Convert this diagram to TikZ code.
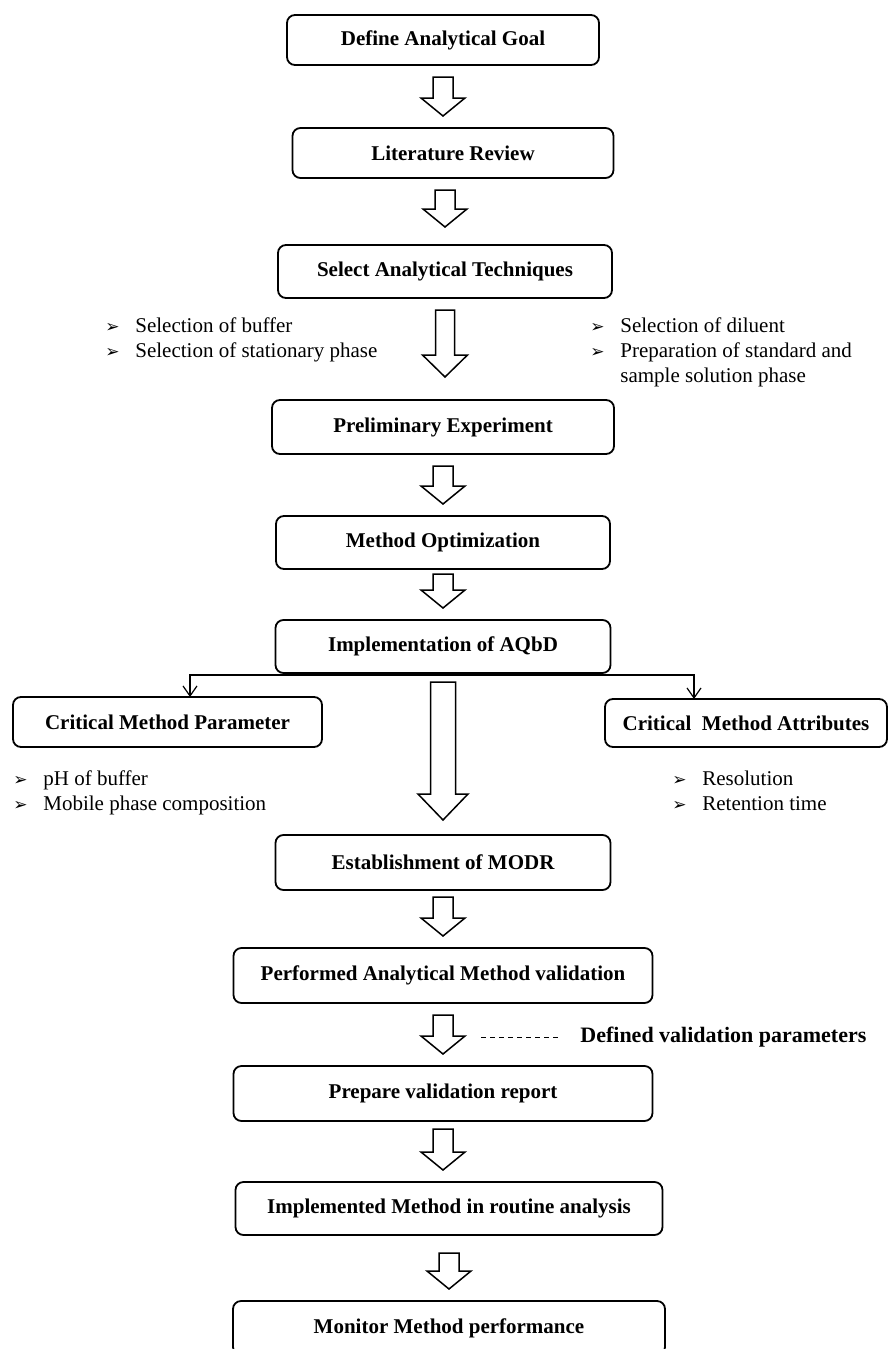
\documentclass[tikz,border=0pt]{standalone}
\usepackage{fontspec}
\setmainfont{Liberation Serif}
\newfontfamily\arrowfont{DejaVu Sans}
\usepackage{tikz}
\usetikzlibrary{positioning}
\usetikzlibrary{calc}
\usetikzlibrary{arrows.meta}
\newcommand{\itemarrow}{\makebox[15pt][l]{\arrowfont\fontsize{8.5}{8.5}\selectfont ➢}}
\tikzset{
	stage/.style={
		draw,
		rounded corners=4pt,
		line width=0.9pt,
		outer sep=0pt,
		inner sep=1pt,
		font=\fontsize{10.5}{12.5}\selectfont\bfseries},
	notes/.style={
		align=left,
		inner sep=0pt,
		anchor=north west,
		font=\fontsize{10.5}{12.5}\selectfont},
	hollow/.style n args={3}{
		line width=0.75pt,
		to path={let \p1=(\tikztostart), \p2=(\tikztotarget) in
			(\x1-#1,\y1-6pt) -- (\x1+#1,\y1-6pt) -- (\x1+#1,\y2+6pt+#3)
			-- (\x1+#2,\y2+6pt+#3) -- (\x1,\y2+6pt) -- (\x1-#2,\y2+6pt+#3)
			-- (\x1-#1,\y2+6pt+#3) -- cycle}},
	thinarrow/.style={hollow={5pt}{11pt}{9pt}},
	branch/.style={
		draw,
		line width=0.6pt,
		-{Straight Barb[length=5pt,width=7pt]}}
}
\begin{document}
\begin{tikzpicture}
	\useasboundingbox (0,0) rectangle (444.5pt,-674.5pt);
	\node[stage, minimum width=156pt, minimum height=25pt] (goal) at (221.5pt,-20pt) {Define Analytical Goal};
	\node[stage, minimum width=160.5pt, minimum height=25pt, below=31.5pt of goal, xshift=5pt] (review) {Literature Review};
	\node[stage, minimum width=167pt, minimum height=26.5pt, below=33.5pt of review, xshift=-4pt] (select) {Select Analytical Techniques};
	\node[stage, minimum width=171pt, minimum height=27pt, below=51pt of select, xshift=-1pt] (prelim) {Preliminary Experiment};
	\node[stage, minimum width=167pt, minimum height=26.5pt, below=31pt of prelim] (optim) {Method Optimization};
	\node[stage, minimum width=167.5pt, minimum height=26.5pt, below=25.5pt of optim] (aqbd) {Implementation of AQbD};
	\node[stage, minimum width=154.5pt, minimum height=25pt, below=12pt of aqbd, xshift=-137.75pt] (cmp) {Critical Method Parameter};
	\node[stage, minimum width=141pt, minimum height=24pt, below=13pt of aqbd, xshift=151.5pt] (cma) {Critical~~Method Attributes};
	\node[stage, minimum width=167.5pt, minimum height=27.5pt, below=81pt of aqbd] (modr) {Establishment of MODR};
	\node[stage, minimum width=209.5pt, minimum height=27.5pt, below=29pt of modr] (valid) {Performed Analytical Method validation};
	\node[stage, minimum width=209.5pt, minimum height=27.5pt, below=31.5pt of valid] (report) {Prepare validation report};
	\node[stage, minimum width=213.5pt, minimum height=26.5pt, below=30.5pt of report, xshift=3pt] (routine) {Implemented Method in routine analysis};
	\node[stage, minimum width=216pt, minimum height=27pt, below=33pt of routine] (monitor) {Monitor Method performance};
	\node[notes] (selectL) at (52.5pt,-158.8pt) {\itemarrow Selection of buffer\\ \itemarrow Selection of stationary phase};
	\node[notes] (selectR) at (295pt,-158.8pt) {\itemarrow Selection of diluent\\ \itemarrow Preparation of standard and\\ \makebox[15pt]{}sample solution phase};
	\node[notes] (cmpL) at (6.5pt,-385.3pt) {\itemarrow pH of buffer\\ \itemarrow Mobile phase composition};
	\node[notes] (cmaL) at (336pt,-385.3pt) {\itemarrow Resolution\\ \itemarrow Retention time};
	\node[font=\fontsize{11}{13}\selectfont\bfseries, anchor=west, inner xsep=10.5pt, inner ysep=0pt] (valpar) at (279.5pt,-518.5pt) {Defined validation parameters};
	\coordinate (dashend) at (240.5pt,-518.5pt);
	\draw[thinarrow] (goal.south) to (review.north);
	\draw[thinarrow] (select |- review.south) to ([yshift=3pt]select.north);
	\draw[hollow={4.75pt}{11.25pt}{11pt}] (select.south) to ([yshift=5.5pt]prelim.north);
	\draw[thinarrow] (prelim.south) to (optim.north);
	\draw[thinarrow] ([yshift=3.5pt]optim.south) to (aqbd.north);
	\draw[hollow={6.25pt}{12.5pt}{13pt}] ([yshift=1.5pt]aqbd.south) to ([yshift=1.5pt]modr.north);
	\draw[thinarrow] ([yshift=2.5pt]modr.south) to (valid.north);
	\draw[thinarrow] (valid.south) to (report.north);
	\draw[thinarrow] ([yshift=2pt]report.south) to (routine.north);
	\draw[thinarrow] ([yshift=-3pt]routine.south) to (monitor.north);
	\draw[branch] ([yshift=-1pt]aqbd.south) -| ([xshift=11.25pt]cmp.north);
	\draw[branch] ([yshift=-1pt]aqbd.south) -| ([xshift=-26pt]cma.north);
	\draw[line width=0.5pt, dash pattern=on 2.5pt off 2pt] (dashend) -- (valpar.west);
\end{tikzpicture}
\end{document}
